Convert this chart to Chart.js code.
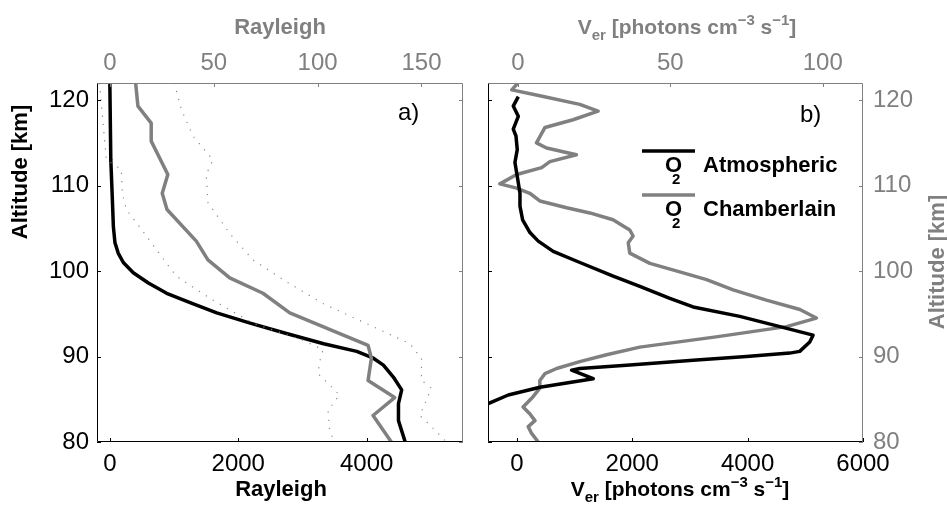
<!DOCTYPE html>
<html>
<head>
<meta charset="utf-8">
<script src="https://cdn.jsdelivr.net/npm/chart.js@4.4.1/dist/chart.umd.min.js"></script>
<style>
  html, body { margin: 0; padding: 0; background: #fff; }
  #wrap { position: relative; width: 947px; height: 514px; }
  #wrap canvas { position: absolute; top: 0; }
  #c1 { left: 0; }
  #c2 { left: 475px; }
</style>
</head>
<body>
<div id="wrap">
  <canvas id="c1" width="475" height="514"></canvas>
  <canvas id="c2" width="472" height="514"></canvas>
</div>
<script>
// ticks
const altTicks = [80, 90, 100, 110, 120];
const rayBottomTicks = [0, 2000, 4000];
const rayTopTicks = [0, 50, 100, 150];
const verBottomTicks = [0, 2000, 4000, 6000];
const verTopTicks = [0, 50, 100];

// a) Rayleigh profiles (black: bottom axis, gray + dotted: top axis)
const rayBlackAlt = [122, 113, 109.2, 105.2, 103.3, 102.1, 101, 99.8, 98.6, 97.4, 96.3, 95.1, 93.9, 92.7, 91.5, 90.6, 89.8, 89.0, 87.6, 86.1, 84.5, 82.5, 80];
const rayBlackVal = [0, 15, 35, 55, 80, 130, 210, 365, 600, 885, 1250, 1665, 2185, 2750, 3330, 3845, 4105, 4260, 4415, 4545, 4495, 4495, 4600];

const rayGrayAlt = [122, 119.3, 117.3, 115.2, 111.3, 109.1, 107.2, 103.5, 101.3, 99.2, 97.4, 95.1, 91.3, 89.8, 87.2, 85.2, 83.1, 80];
const rayGrayVal = [12.4, 13.5, 19.9, 19.9, 27.9, 25.2, 27.5, 41.6, 47.2, 57.7, 73.7, 86.6, 124.3, 125.9, 124.3, 137.1, 126.7, 135.5];

const dotLowAlt = [122, 113, 111.9, 109.1, 107.2, 104.4, 101.7, 99.4, 96.6, 93.9, 91.9, 90.8, 89.4, 88.0, 85.5, 83.7, 81.4, 80];
const dotLowVal = [-5, -1.7, 5.5, 6, 7.9, 16.7, 24.8, 32, 49.6, 68.9, 93, 102.6, 101, 100.2, 110.6, 105, 105.8, 108];

const dotHighAlt = [122, 121.1, 118.9, 115.8, 113, 111.3, 108, 104.4, 101.3, 99, 96.2, 93.5, 91.5, 89.8, 87.2, 86.3, 83.1, 82.2, 80];
const dotHighVal = [31, 32, 34.4, 40, 49.6, 46.4, 47.2, 57.7, 68.9, 83.3, 102.6, 126.7, 144.4, 150, 150, 154.8, 149.2, 153.2, 162];

// b) volume emission rate (O2 Atmospheric: bottom axis, O2 Chamberlain: top axis)
const atmAlt = [120.4, 119.3, 118.1, 116.6, 115.8, 114.2, 112.7, 111.1, 109.1, 107.6, 106, 104.5, 103.5, 102.3, 101, 99.4, 98.2, 96.8, 95.8, 94.7, 93.7, 92.5, 91.7, 90.6, 90.4, 90.0, 89.6, 89.0, 88.6, 88.4, 87.4, 86.4, 85.5, 84.5, 84.2];
const atmVer = [25, -62, 25, -62, -15, 7, -33, 7, 54, 54, 100, 227, 371, 630, 1093, 1670, 2132, 2652, 3055, 3864, 4441, 5134, 5077, 4903, 4730, 3980, 3114, 1959, 1093, 949, 1323, 400, -149, -495, -650];

const chamAlt = [122, 121.2, 120.5, 119.5, 118.7, 117.7, 116.8, 115, 114.4, 113.6, 112.8, 112.1, 111.3, 110.2, 109.7, 109.1, 108.2, 107.4, 106.8, 106, 104.8, 104.1, 103.3, 102.1, 100.9, 99.9, 99, 97.8, 96.6, 95.5, 94.5, 93.5, 92.3, 91.1, 90.2, 89.4, 88.6, 88, 87.2, 86.3, 85.3, 84.1, 83.3, 82.5, 81.8, 81, 80];
const chamVer = [0, -2, 7.2, 20.3, 26.3, 18.1, 8.9, 6.1, 9.4, 19.2, 10.5, 7.8, -0.4, -5.9, -0.4, 3.9, 7.2, 16, 23.6, 31.2, 36.7, 37.8, 36.2, 36.7, 43.3, 53.1, 61.9, 70.6, 81.5, 92.5, 97.9, 88.1, 65, 40, 29.1, 20.3, 12.7, 8.9, 7.2, 7.2, 5, 1.7, 3.9, 5.6, 3.4, 4.5, 6.7];

const FONT = '"Liberation Sans", Arial, Helvetica, sans-serif';
const GRAY = '#808080';
const BLACK = '#000000';

function pts(xs, ys) {
    return xs.map((v, i) => ({ x: v, y: ys[i] }));
}

// inward tick marks + box, black on left/bottom, gray on top/right
function frameTicks(bottomTicks, topTicks) {
    return {
        id: 'frameTicks',
        afterDatasetsDraw(chart) {
            const { ctx, chartArea: a, scales } = chart;
            const L = 4;
            const seg = (x1, y1, x2, y2, c) => {
                ctx.strokeStyle = c;
                ctx.beginPath();
                ctx.moveTo(x1, y1);
                ctx.lineTo(x2, y2);
                ctx.stroke();
            };
            ctx.save();
            ctx.lineWidth = 1;
            altTicks.forEach(v => {
                const y = Math.round(scales.y.getPixelForValue(v)) + 0.5;
                seg(a.left, y, a.left + L, y, BLACK);
                seg(a.right - L, y, a.right, y, GRAY);
            });
            bottomTicks.forEach(v => {
                const x = Math.round(scales.x.getPixelForValue(v)) + 0.5;
                seg(x, a.bottom, x, a.bottom - L, BLACK);
            });
            topTicks.forEach(v => {
                const x = Math.round(scales.x2.getPixelForValue(v)) + 0.5;
                seg(x, a.top, x, a.top + L, GRAY);
            });
            const l = Math.round(a.left) + 0.5, r = Math.round(a.right) - 0.5;
            const t = Math.round(a.top) + 0.5, b = Math.round(a.bottom) - 0.5;
            seg(l, t, r, t, GRAY);
            seg(r, t, r, b, GRAY);
            seg(l, t, l, b, BLACK);
            seg(l, b, r, b, BLACK);
            ctx.restore();
        }
    };
}

// text with sub/superscripts: parts = [[text, shift]], shift 1 = sub, -1 = sup
function richText(ctx, parts, x, y, size, color, rot) {
    const small = Math.round(size * 0.7);
    const fontOf = s => 'bold ' + (s ? small : size) + 'px ' + FONT;
    ctx.save();
    ctx.translate(x, y);
    if (rot) ctx.rotate(rot);
    ctx.fillStyle = color;
    ctx.textAlign = 'left';
    ctx.textBaseline = 'alphabetic';
    let w = 0;
    parts.forEach(p => { ctx.font = fontOf(p[1]); w += ctx.measureText(p[0]).width; });
    let cx = -w / 2;
    parts.forEach(p => {
        ctx.font = fontOf(p[1]);
        const dy = p[1] === 1 ? 6 : p[1] === -1 ? -9 : 0;
        ctx.fillText(p[0], cx, dy);
        cx += ctx.measureText(p[0]).width;
    });
    ctx.restore();
}

const verLabel = [['V', 0], ['er', 1], [' [photons cm', 0], ['\u22123', -1], [' s', 0], ['\u22121', -1], [']', 0]];

const textsLeft = {
    id: 'textsLeft',
    afterDraw(chart) {
        const ctx = chart.ctx;
        richText(ctx, [['Altitude [km]', 0]], 27, 172, 22, BLACK, -Math.PI / 2);
        richText(ctx, [['Rayleigh', 0]], 280, 34, 22, GRAY);
        richText(ctx, [['Rayleigh', 0]], 281, 496, 22, BLACK);
        ctx.save();
        ctx.font = '24px ' + FONT;
        ctx.fillStyle = BLACK;
        ctx.fillText('a)', 398, 120);
        ctx.restore();
    }
};

const textsRight = {
    id: 'textsRight',
    afterDraw(chart) {
        const ctx = chart.ctx;
        richText(ctx, verLabel, 212, 34, 21, GRAY);
        richText(ctx, verLabel, 205, 496, 21, BLACK);
        richText(ctx, [['Altitude [km]', 0]], 469, 262, 22, GRAY, -Math.PI / 2);
        ctx.save();
        ctx.font = '24px ' + FONT;
        ctx.fillStyle = BLACK;
        ctx.fillText('b)', 325, 122);
        // legend
        const rows = [[BLACK, 151, 172, 'Atmospheric'], [GRAY, 195, 216, 'Chamberlain']];
        rows.forEach(r => {
            ctx.strokeStyle = r[0];
            ctx.lineWidth = 3.5;
            ctx.beginPath();
            ctx.moveTo(167, r[1]);
            ctx.lineTo(220, r[1]);
            ctx.stroke();
            ctx.fillStyle = BLACK;
            ctx.font = 'bold 22px ' + FONT;
            ctx.fillText('O', 190, r[2]);
            ctx.fillText(r[3], 228, r[2]);
            ctx.font = 'bold 15px ' + FONT;
            ctx.fillText('2', 197, r[2] + 12);
        });
        ctx.restore();
    }
};

function axisOpts(extra) {
    return Object.assign({
        type: 'linear',
        grid: { display: false, drawTicks: false },
        border: { display: false },
        ticks: { font: { size: 24, family: FONT }, color: BLACK, padding: 8, callback: v => String(v) }
    }, extra);
}

function setTicks(list) {
    return s => { s.ticks = list.map(v => ({ value: v })); };
}

const common = {
    responsive: false,
    animation: false,
    events: [],
    elements: { point: { radius: 0 }, line: { tension: 0, fill: false, borderJoinStyle: 'round' } },
    plugins: { legend: { display: false }, tooltip: { enabled: false } }
};

new Chart(document.getElementById('c1'), {
    type: 'scatter',
    data: {
        datasets: [
            { data: pts(dotLowVal, dotLowAlt), xAxisID: 'x2', showLine: true, borderColor: '#8a8a8a', borderWidth: 1.2, borderDash: [1.2, 7] },
            { data: pts(dotHighVal, dotHighAlt), xAxisID: 'x2', showLine: true, borderColor: '#8a8a8a', borderWidth: 1.2, borderDash: [1.2, 7] },
            { data: pts(rayGrayVal, rayGrayAlt), xAxisID: 'x2', showLine: true, borderColor: GRAY, borderWidth: 3.5 },
            { data: pts(rayBlackVal, rayBlackAlt), xAxisID: 'x', showLine: true, borderColor: BLACK, borderWidth: 3.5 }
        ]
    },
    options: Object.assign({}, common, {
        layout: { padding: { right: 12 } },
        scales: {
            y: axisOpts({ position: 'left', min: 80, max: 122, afterBuildTicks: setTicks(altTicks), afterFit: s => { s.width = 97; } }),
            x: axisOpts({ position: 'bottom', min: -200, max: 5500, afterBuildTicks: setTicks(rayBottomTicks), afterFit: s => { s.height = 72; } }),
            x2: axisOpts({ position: 'top', min: -6.2, max: 170, afterBuildTicks: setTicks(rayTopTicks), afterFit: s => { s.height = 83; },
                ticks: { font: { size: 24, family: FONT }, color: GRAY, padding: 5, callback: v => String(v) } })
        }
    }),
    plugins: [frameTicks(rayBottomTicks, rayTopTicks), textsLeft]
});

new Chart(document.getElementById('c2'), {
    type: 'scatter',
    data: {
        datasets: [
            { data: pts(atmVer, atmAlt), xAxisID: 'x', showLine: true, borderColor: BLACK, borderWidth: 3.5 },
            { data: pts(chamVer, chamAlt), xAxisID: 'x2', showLine: true, borderColor: GRAY, borderWidth: 3.5 }
        ]
    },
    options: Object.assign({}, common, {
        layout: { padding: { left: 13 } },
        scales: {
            y: axisOpts({ position: 'right', min: 80, max: 122, afterBuildTicks: setTicks(altTicks), afterFit: s => { s.width = 84; },
                ticks: { font: { size: 24, family: FONT }, color: GRAY, padding: 10, callback: v => String(v) } }),
            x: axisOpts({ position: 'bottom', min: -500, max: 6000, afterBuildTicks: setTicks(verBottomTicks), afterFit: s => { s.height = 72; } }),
            x2: axisOpts({ position: 'top', min: -9.8, max: 113.2, afterBuildTicks: setTicks(verTopTicks), afterFit: s => { s.height = 83; },
                ticks: { font: { size: 24, family: FONT }, color: GRAY, padding: 5, callback: v => String(v) } })
        }
    }),
    plugins: [frameTicks(verBottomTicks, verTopTicks), textsRight]
});
</script>
</body>
</html>
